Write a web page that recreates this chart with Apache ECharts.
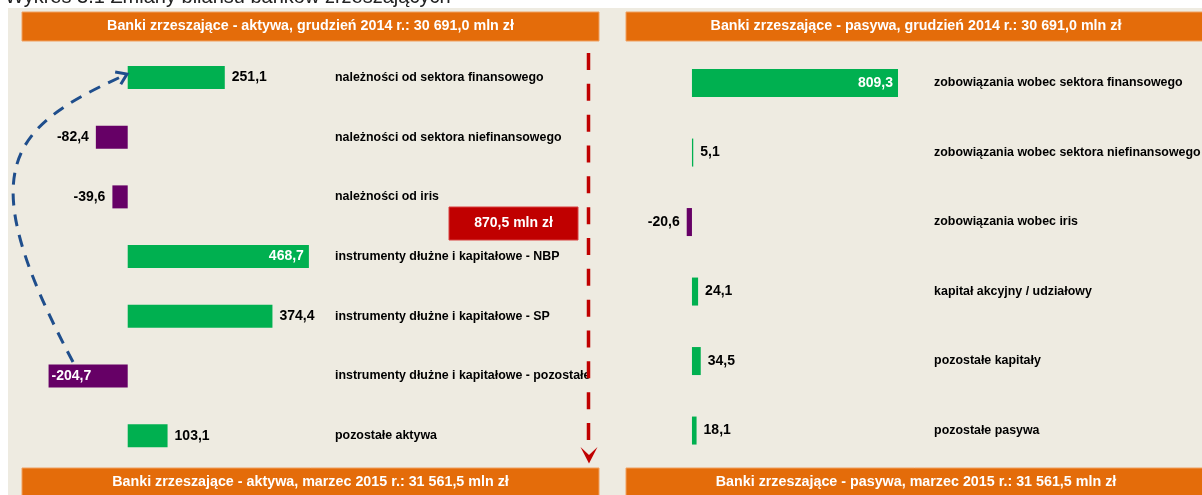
<!DOCTYPE html>
<html>
<head>
<meta charset="utf-8">
<script src="https://cdn.jsdelivr.net/npm/echarts@6/dist/echarts.min.js"></script>
<style>
    html, body { margin: 0; padding: 0; background: #fff; }
    #chart { width: 1202px; height: 495px; }
</style>
</head>
<body>
<div id="chart"></div>
<script>
// dane: zmiany w mln zł (marzec 2015 vs grudzień 2014)
const aktywaKategorie = [
    'należności od sektora finansowego',
    'należności od sektora niefinansowego',
    'należności od iris',
    'instrumenty dłużne i kapitałowe - NBP',
    'instrumenty dłużne i kapitałowe - SP',
    'instrumenty dłużne i kapitałowe - pozostałe',
    'pozostałe aktywa'
]
const aktywaZmiany = [251.1, -82.4, -39.6, 468.7, 374.4, -204.7, 103.1]

const pasywaKategorie = [
    'zobowiązania wobec sektora finansowego',
    'zobowiązania wobec sektora niefinansowego',
    'zobowiązania wobec iris',
    'kapitał akcyjny / udziałowy',
    'pozostałe kapitały',
    'pozostałe pasywa'
]
const pasywaZmiany = [809.3, 5.1, -20.6, 24.1, 34.5, 18.1]

const sumaGrudzien2014 = 30691.0
const sumaMarzec2015 = 31561.5

// etykiety wartości rysowane wewnątrz słupka (indeksy)
const etykietyWewnatrz = { aktywa: [3, 5], pasywa: [0] }

const GREEN = '#00B050'
const PURPLE = '#660066'
const ORANGE = '#E46C0A'
const RED = '#C00000'
const BLUE = '#1F4E8C'
const FONT = 'Arial, "Liberation Sans", sans-serif'

const fmt = (v) => {
    const parts = Math.abs(v).toFixed(1).split('.')
    const int = parts[0].replace(/\B(?=(\d{3})+(?!\d))/g, ' ')
    return (v < 0 ? '-' : '') + int + ',' + parts[1]
}

const buildData = (values, inside) => values.map((v, i) => {
    const inBar = inside.includes(i)
    let position = v >= 0 ? 'right' : 'left'
    if (inBar) position = v >= 0 ? 'insideRight' : 'insideLeft'
    return {
        value: v,
        itemStyle: { color: v >= 0 ? GREEN : PURPLE },
        label: {
            position,
            distance: inBar ? (v >= 0 ? 5 : 3) : 7,
            color: inBar ? '#fff' : '#000'
        }
    }
})

const header = (x, y, w, text) => ({
    type: 'group',
    children: [
        {
            type: 'rect',
            shape: { x, y, width: w, height: 29 },
            style: { fill: ORANGE, stroke: '#F0A060', lineWidth: 1 }
        },
        {
            type: 'text',
            x: x + w / 2,
            y: y + 14.5,
            style: {
                text,
                fill: '#fff',
                font: 'bold 14.3px ' + FONT,
                align: 'center',
                verticalAlign: 'middle'
            }
        }
    ]
})

// niebieska przerywana strzałka
const p0 = [73, 362], c1 = [-30, 168], c2 = [8, 128], p3 = [127, 74]
const ang = Math.atan2(p3[1] - c2[1], p3[0] - c2[0])
const arm = (da) => [p3[0] + 12 * Math.cos(ang + Math.PI + da), p3[1] + 12 * Math.sin(ang + Math.PI + da)]

const chart = echarts.init(document.getElementById('chart'))

const valueLabel = {
    show: true,
    fontFamily: FONT,
    fontWeight: 'bold',
    fontSize: 14,
    formatter: (p) => fmt(p.value)
}

const catAxis = (gridIndex, cats, margin, width) => ({
    type: 'category',
    gridIndex,
    data: cats,
    inverse: true,
    position: 'right',
    axisLine: { show: false },
    axisTick: { show: false },
    axisLabel: {
        margin,
        align: 'left',
        color: '#000',
        fontFamily: FONT,
        fontWeight: 'bold',
        fontSize: 12.4,
        width,
        overflow: 'truncate',
        ellipsis: ''
    }
})

const valAxis = (gridIndex, min, max) => ({
    type: 'value',
    gridIndex,
    min,
    max,
    axisLine: { show: false },
    axisTick: { show: false },
    axisLabel: { show: false },
    splitLine: { show: false }
})

const option = {
    backgroundColor: '#fff',
    animation: false,
    textStyle: { fontFamily: FONT },
    grid: [
        { left: 4, width: 317, top: 47.6, height: 418, outerBoundsMode: 'none', containLabel: false },
        { left: 666.5, width: 254.6, top: 48.3, height: 417, outerBoundsMode: 'none', containLabel: false }
    ],
    xAxis: [valAxis(0, -320, 500), valAxis(1, -100, 900)],
    yAxis: [catAxis(0, aktywaKategorie, 14, 262), catAxis(1, pasywaKategorie, 13, 400)],
    series: [
        {
            type: 'bar',
            xAxisIndex: 0,
            yAxisIndex: 0,
            barWidth: 23,
            label: valueLabel,
            data: buildData(aktywaZmiany, etykietyWewnatrz.aktywa),
            z: 3
        },
        {
            type: 'bar',
            xAxisIndex: 1,
            yAxisIndex: 1,
            barWidth: 28,
            label: valueLabel,
            data: buildData(pasywaZmiany, etykietyWewnatrz.pasywa),
            z: 3
        }
    ],
    graphic: [
        {
            type: 'rect',
            z: -10,
            shape: { x: 8, y: 8, width: 1194, height: 487 },
            style: { fill: '#EEEBE1' }
        },
        {
            type: 'text',
            x: 5,
            y: -3,
            style: {
                text: 'Wykres 3.1 Zmiany bilansu banków zrzeszających',
                fill: '#222',
                font: '20px ' + FONT,
                verticalAlign: 'middle'
            }
        },
        header(22, 12, 577, 'Banki zrzeszające - aktywa, grudzień 2014 r.: ' + fmt(sumaGrudzien2014) + ' mln zł'),
        header(626, 12, 580, 'Banki zrzeszające - pasywa, grudzień 2014 r.: ' + fmt(sumaGrudzien2014) + ' mln zł'),
        header(22, 468, 577, 'Banki zrzeszające - aktywa, marzec 2015 r.: ' + fmt(sumaMarzec2015) + ' mln zł'),
        header(626, 468, 580, 'Banki zrzeszające - pasywa, marzec 2015 r.: ' + fmt(sumaMarzec2015) + ' mln zł'),
        {
            type: 'rect',
            z: 20,
            shape: { x: 449, y: 207, width: 129, height: 33 },
            style: { fill: RED, stroke: '#D84040', lineWidth: 1 }
        },
        {
            type: 'text',
            z: 21,
            x: 513.5,
            y: 223.5,
            style: {
                text: fmt(sumaMarzec2015 - sumaGrudzien2014) + ' mln zł',
                fill: '#fff',
                font: 'bold 14px ' + FONT,
                align: 'center',
                verticalAlign: 'middle'
            }
        },
        {
            type: 'line',
            z: 20,
            shape: { x1: 588.5, y1: 53, x2: 588.5, y2: 440 },
            style: { stroke: RED, lineWidth: 3.5, lineDash: [17, 13.83] }
        },
        {
            type: 'polygon',
            z: 20,
            shape: { points: [[580.5, 447], [589, 455], [597.5, 447], [589, 463.5]] },
            style: { fill: RED }
        },
        {
            type: 'bezierCurve',
            z: 20,
            shape: {
                x1: p0[0], y1: p0[1],
                cpx1: c1[0], cpy1: c1[1],
                cpx2: c2[0], cpy2: c2[1],
                x2: p3[0] - 2, y2: p3[1] + 1
            },
            style: { stroke: BLUE, lineWidth: 3, lineDash: [12, 9], fill: null }
        },
        {
            type: 'polyline',
            z: 20,
            shape: { points: [arm(0.6), p3, arm(-0.6)] },
            style: { stroke: BLUE, lineWidth: 3, fill: null }
        }
    ]
}

chart.setOption(option)
window.addEventListener('resize', () => chart.resize())
</script>
</body>
</html>
